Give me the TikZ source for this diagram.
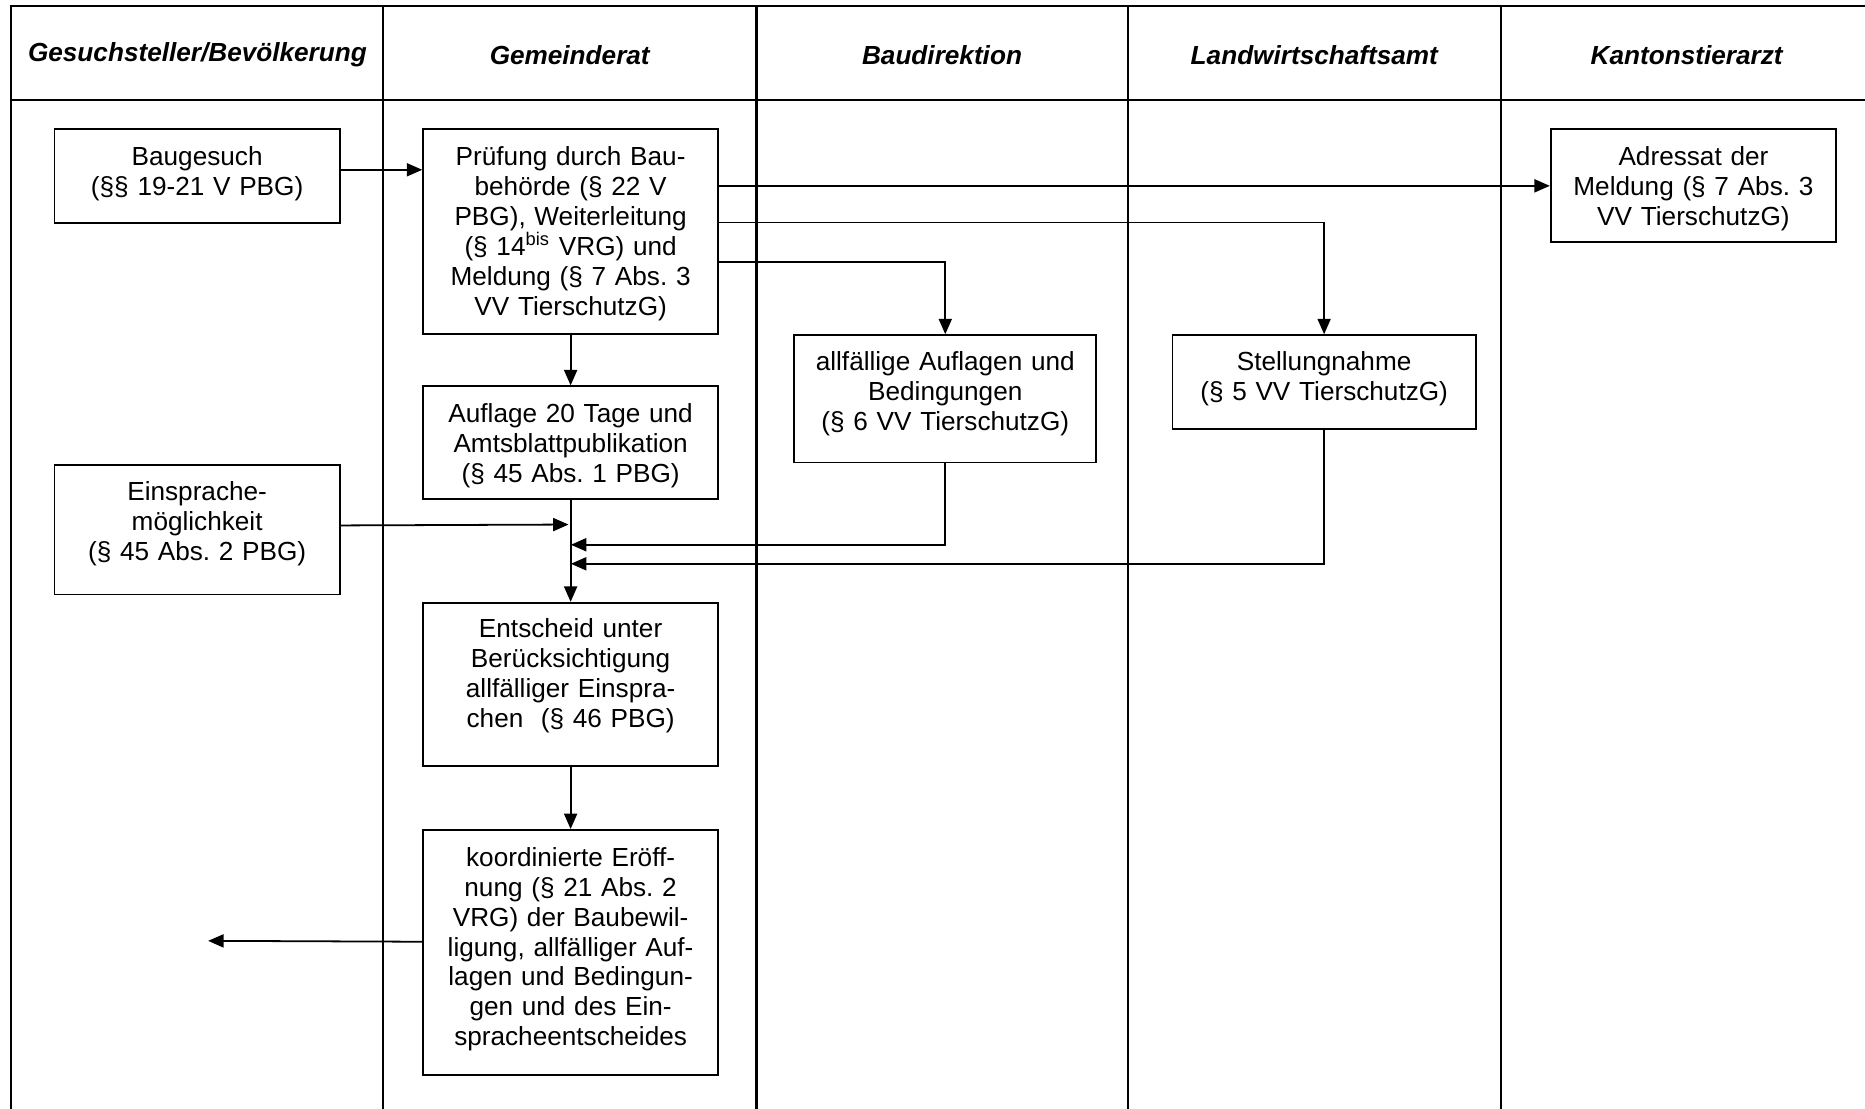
\documentclass[tikz,border=0pt]{standalone}
\usepackage{fontspec}
\setmainfont{Liberation Sans}
\usetikzlibrary{arrows.meta,calc}
\frenchspacing
\begin{document}
\begin{tikzpicture}[x=0.5pt,y=-0.5pt,
  lane/.style={line width=0.9pt},
  head/.style={font=\fontsize{11}{13}\selectfont\bfseries\itshape, inner sep=0pt},
  box/.style={draw, line width=0.75pt, anchor=north west, align=center, inner xsep=1pt, inner ysep=3pt, font=\fontsize{11}{12.6}\selectfont, text height=12.2pt},
  arr/.style={line width=0.75pt, -{Triangle[length=6.5pt,width=5.5pt]}},
  ln/.style={line width=0.75pt}]
\useasboundingbox (0,0) rectangle (1568,932);
% table
\draw[lane] (9,932) -- (9,5) -- (1568,5);
\draw[lane] (9,84) -- (1568,84);
\foreach \x in {322,636,948,1262} \draw[lane] (\x,5) -- (\x,932);
% headers
\node[head] (h1) at (166,46) {Gesuchsteller/Bevölkerung};
\node[head] (h2) at (479,46) {Gemeinderat};
\node[head] (h3) at (792,46) {Baudirektion};
\node[head] (h4) at (1105,46) {Landwirtschaftsamt};
\node[head] (h5) at (1418,46) {Kantonstierarzt};
% boxes
\node[box, text width=118pt, text depth=21.3pt] (baug) at (45,108) {Baugesuch\\(§§ 19-21 V PBG)};
\node[box, text width=122pt, text depth=67.8pt] (pruef) at (355,108) {Prüfung durch Bau-\\behörde (§ 22 V\\PBG), Weiterleitung\\(§ 14\textsuperscript{bis} VRG) und\\Meldung (§ 7 Abs. 3\\VV TierschutzG)};
\node[box, text width=118pt, text depth=29.3pt] (adr) at (1303,108) {Adressat der\\Meldung (§ 7 Abs. 3\\VV TierschutzG)};
\node[box, text width=122pt, text depth=29.3pt] (aufl) at (355,324) {Auflage 20 Tage und\\Amtsblattpublikation\\(§ 45 Abs. 1 PBG)};
\node[box, text width=125pt, text depth=35.8pt, text height=11.7pt] (bedin) at (667,281) {allfällige Auflagen und\\Bedingungen\\(§ 6 VV TierschutzG)};
\node[box, text width=125.5pt, text depth=21.8pt, text height=11.7pt] (stell) at (985,281) {Stellungnahme\\(§ 5 VV TierschutzG)};
\node[box, text width=118pt, text depth=36.3pt] (einsp) at (45,390) {Einsprache-\\möglichkeit\\(§ 45 Abs. 2 PBG)};
\node[box, text width=122pt, text depth=50.8pt, text height=11.7pt] (entsch) at (355,506) {Entscheid unter\\Berücksichtigung\\allfälliger Einspra-\\chen\ \ (§ 46 PBG)};
\node[box, text width=122pt, text depth=84.8pt] (koord) at (355,697) {koordinierte Eröff-\\nung (§ 21 Abs. 2\\VRG) der Baubewil-\\ligung, allfälliger Auf-\\lagen und Bedingun-\\gen und des Ein-\\spracheentscheides};
% junction coordinates
\coordinate (j0) at (478,441);
\coordinate (j1) at (480,458);
\coordinate (j2) at (480,474);
\coordinate (out) at (175,791);
% connectors
\draw[arr] ([yshift=2.75pt]baug.east) -- ([yshift=2.75pt]baug.east -| pruef.west);
\draw[arr] (adr.west -| pruef.east) -- (adr.west);
\draw[arr] ([yshift=-39.5pt]pruef.north east) -| (stell.north);
\draw[arr] ([yshift=-56pt]pruef.north east) -| (bedin.north);
\draw[arr] (pruef.south) -- (aufl.north);
\draw[arr] (aufl.south) -- (entsch.north);
\draw[arr] ([yshift=1.75pt]einsp.east) -- (j0);
\draw[arr] (bedin.south) |- (j1);
\draw[arr] (stell.south) |- (j2);
\draw[arr] ([yshift=4.5pt]koord.west) -- (out);
\draw[arr] (entsch.south) -- (koord.north);
\end{tikzpicture}
\end{document}
